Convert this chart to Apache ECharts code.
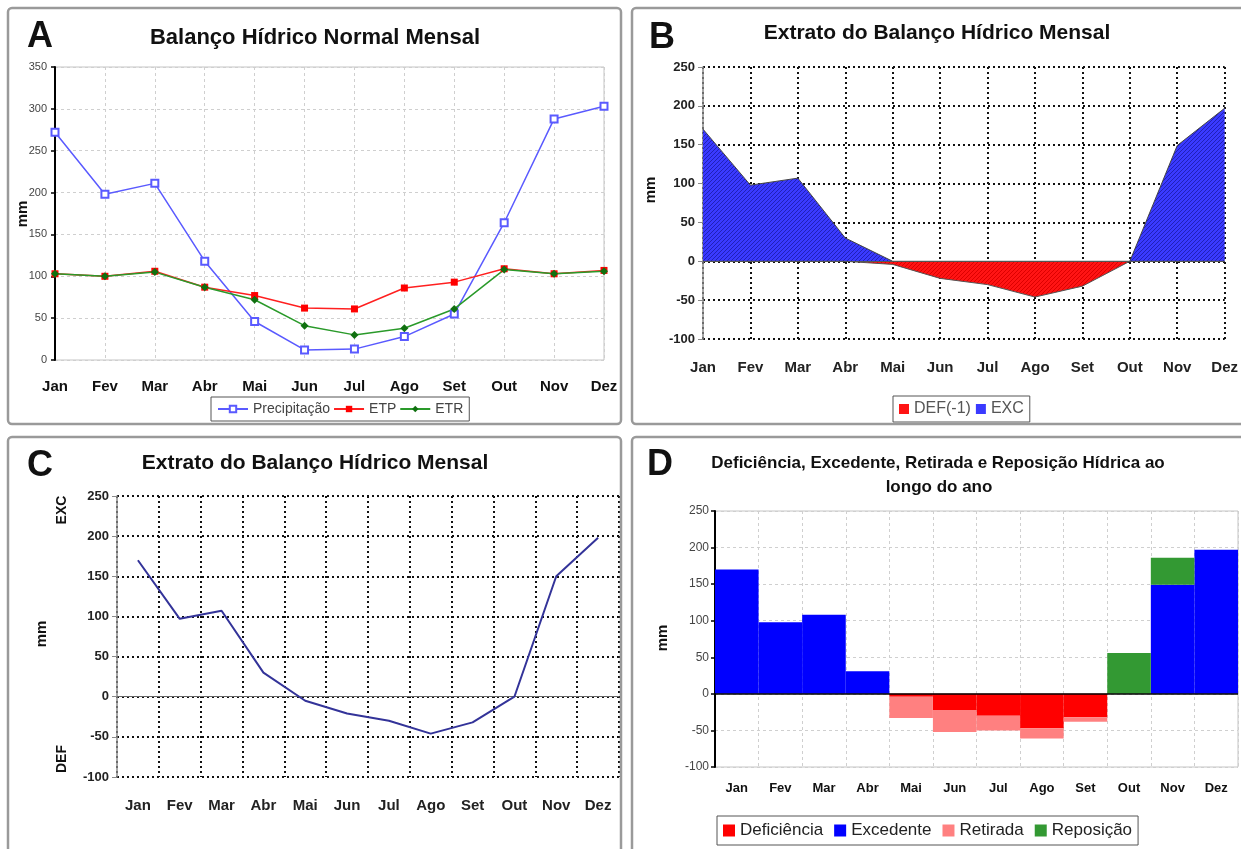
<!DOCTYPE html>
<html><head><meta charset="utf-8">
<script src="https://cdn.jsdelivr.net/npm/echarts@6/dist/echarts.min.js"></script>
<style>html,body{margin:0;padding:0;background:#fff}#c{width:1241px;height:849px}</style>
</head><body><div id="c"></div><script>
// ---------- data ----------
const months = ['Jan','Fev','Mar','Abr','Mai','Jun','Jul','Ago','Set','Out','Nov','Dez'];
// Panel A
const precipitacao = [272,198,211,118,46,12,13,28,55,164,288,303];
const etp = [103,100,106,87,77,62,61,86,93,109,103,107];
const etr = [103,100,105,87,72,41,30,38,61,108,103,106];
// Panel B
const excB = [170,98,107,30,0,0,0,0,0,0,149,197];
const defB = [0,0,0,0,-4,-22,-30,-46,-32,0,0,0];
// Panel C
const extrato = [170,97,107,30,-5,-21,-30,-46,-32,0,150,198];
// Panel D
const deficiencia = [0,0,0,0,-4,-22,-30,-47,-32,0,0,0];
const excedente = [170,98,108,31,0,0,0,0,0,0,149,197];
const retirada = [0,0,0,0,-29,-30,-20,-14,-6,0,0,0];
const reposicao = [0,0,0,0,0,0,0,0,0,56,37,0];

const FF = '"Liberation Sans", Arial, Helvetica, sans-serif';
function hatch(bg, fg){
  const c = document.createElement('canvas'); c.width = 4; c.height = 4;
  const g = c.getContext('2d');
  g.fillStyle = bg; g.fillRect(0,0,4,4);
  g.fillStyle = fg;
  g.fillRect(0,3,1,1); g.fillRect(1,2,1,1); g.fillRect(2,1,1,1); g.fillRect(3,0,1,1);
  return c;
}
const blueHatch = {image: hatch('#3a3aff','#2020b8'), repeat:'repeat'};
const redHatch = {image: hatch('#ff1414','#dd0000'), repeat:'repeat'};

const dotted = {color:'#111', width:2, type:[2,3]};
const lightDash = {color:'#cfcfcf', width:1, type:[3,3]};
const zeroLine = (color, w) => ({silent:true, symbol:'none', label:{show:false},
  lineStyle:{color:color, type:'solid', width:w}, data:[{yAxis:0}]});

function panel(x,y,w,h){
  return {type:'rect', shape:{x:x,y:y,width:w,height:h,r:4}, style:{fill:'none', stroke:'#9a9a9a', lineWidth:2.5}, z:100};
}
function txt(x,y,text,font,rot,color){
  return {type:'text', x:x, y:y, rotation:rot||0, z:100,
    style:{text:text, font:font, fill:color||'#111', align:'center', verticalAlign:'middle'}};
}

const chart = echarts.init(document.getElementById('c'));
const option = {
  backgroundColor:'#fff',
  animation:false,
  textStyle:{fontFamily:FF},
  grid:[
    {left:55, top:67, width:549, height:293, show:true, borderColor:'#c4c4c4', borderWidth:1},
    {left:703, top:67, width:525, height:272},
    {left:117, top:496, width:502, height:281},
    {left:715, top:511, width:523, height:256, show:true, borderColor:'#c4c4c4', borderWidth:1}
  ],
  xAxis:[
    {gridIndex:0, type:'category', data:months, boundaryGap:false,
     axisLine:{show:false}, axisTick:{show:false},
     splitLine:{show:true, interval:0, lineStyle:lightDash},
     axisLabel:{interval:0, fontSize:15, fontWeight:'bold', color:'#111', margin:19}},
    {gridIndex:1, type:'category', data:months, boundaryGap:false,
     axisLine:{show:false}, axisTick:{show:false},
     splitLine:{show:true, interval:0, lineStyle:dotted},
     axisLabel:{interval:0, fontSize:15, fontWeight:'bold', color:'#222', margin:21}},
    {gridIndex:2, type:'category', data:months, boundaryGap:true,
     axisLine:{show:false}, axisTick:{show:false},
     splitLine:{show:true, interval:0, lineStyle:dotted},
     axisLabel:{interval:0, fontSize:15, fontWeight:'bold', color:'#222', margin:21}},
    {gridIndex:3, type:'category', data:months, boundaryGap:true,
     axisLine:{show:false}, axisTick:{show:false},
     splitLine:{show:true, interval:0, lineStyle:lightDash},
     axisLabel:{interval:0, fontSize:13, fontWeight:'bold', color:'#111', margin:15}}
  ],
  yAxis:[
    {gridIndex:0, type:'value', min:0, max:350, interval:50,
     axisLine:{show:true, lineStyle:{color:'#000', width:2}},
     axisTick:{show:true, length:4, lineStyle:{color:'#000', width:1.5}},
     axisLabel:{fontSize:11, color:'#444', margin:8},
     splitLine:{show:true, lineStyle:lightDash}},
    {gridIndex:1, type:'value', min:-100, max:250, interval:50,
     axisLine:{show:true, lineStyle:{color:'#8a8a8a', width:1.5}},
     axisTick:{show:true, length:5, lineStyle:{color:'#8a8a8a'}},
     axisLabel:{fontSize:13, fontWeight:'bold', color:'#222', margin:8},
     splitLine:{show:true, lineStyle:dotted}},
    {gridIndex:2, type:'value', min:-100, max:250, interval:50,
     axisLine:{show:true, lineStyle:{color:'#8a8a8a', width:1.5}},
     axisTick:{show:true, length:5, lineStyle:{color:'#8a8a8a'}},
     axisLabel:{fontSize:13, fontWeight:'bold', color:'#222', margin:8},
     splitLine:{show:true, lineStyle:dotted}},
    {gridIndex:3, type:'value', min:-100, max:250, interval:50,
     axisLine:{show:true, lineStyle:{color:'#000', width:2}},
     axisTick:{show:true, length:4, lineStyle:{color:'#000', width:1.5}},
     axisLabel:{fontSize:12, color:'#444', margin:6},
     splitLine:{show:true, lineStyle:lightDash}}
  ],
  legend:[
    {data:['Precipitação','ETP','ETR'], left:211, top:397, orient:'horizontal',
     padding:[5,6], itemGap:3, itemWidth:30, itemHeight:8,
     borderColor:'#555', borderWidth:1, backgroundColor:'#fff',
     textStyle:{fontSize:14, color:'#444', fontFamily:FF}},
    {data:['DEF(-1)','EXC'], left:893, top:396, padding:[5,6], itemGap:5,
     itemWidth:10, itemHeight:10, icon:'rect',
     borderColor:'#555', borderWidth:1, backgroundColor:'#fff',
     textStyle:{fontSize:16, color:'#555', fontFamily:FF}},
    {data:['Deficiência','Excedente','Retirada','Reposição'], left:717, top:816,
     padding:[6,6], itemGap:11, itemWidth:12, itemHeight:12, icon:'rect',
     borderColor:'#555', borderWidth:1, backgroundColor:'#fff',
     textStyle:{fontSize:17, color:'#222', fontFamily:FF}}
  ],
  series:[
    {name:'Precipitação', type:'line', xAxisIndex:0, yAxisIndex:0, data:precipitacao,
     symbol:'emptyRect', symbolSize:7, lineStyle:{color:'#5a5aff', width:1.5},
     itemStyle:{color:'#5a5aff', borderWidth:1.5}},
    {name:'ETP', type:'line', xAxisIndex:0, yAxisIndex:0, data:etp,
     symbol:'rect', symbolSize:7, lineStyle:{color:'#ff2020', width:1.5},
     itemStyle:{color:'#ff0000'}},
    {name:'ETR', type:'line', xAxisIndex:0, yAxisIndex:0, data:etr,
     symbol:'diamond', symbolSize:8, lineStyle:{color:'#2a9a2a', width:1.5},
     itemStyle:{color:'#107010'}},

    {name:'DEF(-1)', type:'line', xAxisIndex:1, yAxisIndex:1, data:defB,
     symbol:'none', lineStyle:{color:'#555', width:1},
     itemStyle:{color:'#ff1414'}, areaStyle:{color:redHatch, opacity:1}},
    {name:'EXC', type:'line', xAxisIndex:1, yAxisIndex:1, data:excB,
     symbol:'none', lineStyle:{color:'#444', width:1},
     itemStyle:{color:'#3a3aff'}, areaStyle:{color:blueHatch, opacity:1},
     markLine:zeroLine('#555',1.2)},

    {name:'Extrato', type:'line', xAxisIndex:2, yAxisIndex:2, data:extrato,
     symbol:'none', lineStyle:{color:'#333399', width:2}, itemStyle:{color:'#333399'},
     markLine:zeroLine('#666',1.2), z:5},

    {name:'Deficiência', type:'bar', xAxisIndex:3, yAxisIndex:3, data:deficiencia,
     stack:'d', barWidth:'100%', itemStyle:{color:'#ff0000'}},
    {name:'Excedente', type:'bar', xAxisIndex:3, yAxisIndex:3, data:excedente,
     stack:'d', barWidth:'100%', itemStyle:{color:'#0000ff'}},
    {name:'Retirada', type:'bar', xAxisIndex:3, yAxisIndex:3, data:retirada,
     stack:'d', barWidth:'100%', itemStyle:{color:'#ff8080'}},
    {name:'Reposição', type:'bar', xAxisIndex:3, yAxisIndex:3, data:reposicao,
     stack:'d', barWidth:'100%', itemStyle:{color:'#339933'},
     markLine:zeroLine('#000',1.5)}
  ],
  graphic:[
    panel(8,8,613,416), panel(632,8,625,416), panel(8,437,613,430), panel(632,437,625,430),
    txt(40,37,'A','bold 36px '+FF), txt(662,38,'B','bold 36px '+FF),
    txt(40,466,'C','bold 36px '+FF), txt(660,465,'D','bold 36px '+FF),
    txt(315,38,'Balanço Hídrico Normal Mensal','bold 22px '+FF),
    txt(937,33,'Extrato do Balanço Hídrico Mensal','bold 21px '+FF),
    txt(315,463,'Extrato do Balanço Hídrico Mensal','bold 21px '+FF),
    txt(938,463,'Deficiência, Excedente, Retirada e Reposição Hídrica ao','bold 17px '+FF),
    txt(939,487,'longo do ano','bold 17px '+FF),
    txt(23,214,'mm','bold 15px '+FF,Math.PI/2),
    txt(651,190,'mm','bold 15px '+FF,Math.PI/2),
    txt(62,510,'EXC','bold 14px '+FF,Math.PI/2),
    txt(42,634,'mm','bold 15px '+FF,Math.PI/2),
    txt(62,759,'DEF','bold 14px '+FF,Math.PI/2),
    txt(663,638,'mm','bold 15px '+FF,Math.PI/2)
  ]
};
chart.setOption(option);
</script></body></html>
